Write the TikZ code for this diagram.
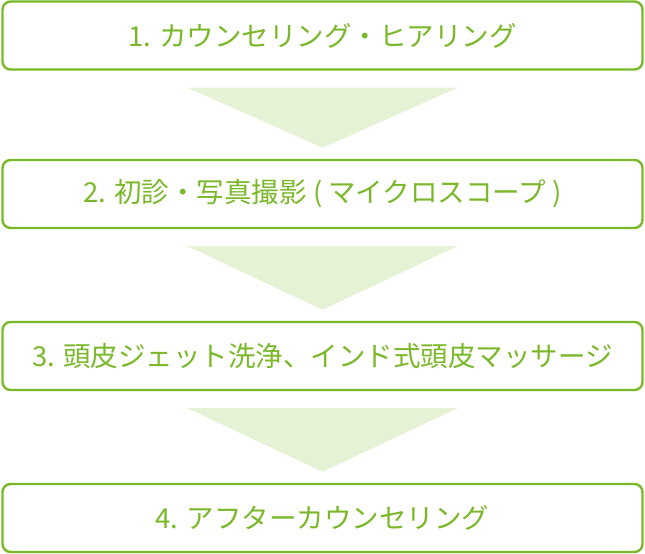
\documentclass[tikz,border=0pt]{standalone}
\usepackage{fontspec}
\newfontfamily\jp{Noto Sans CJK JP}
\definecolor{grn}{HTML}{7AB829}
\definecolor{tri}{HTML}{E6F2D6}
\begin{document}
\begin{tikzpicture}[x=1pt,y=-1pt,
  stepbox/.style={draw=grn,line width=2.4pt,rounded corners=8pt,fill=white,minimum width=640pt,minimum height=68pt,inner sep=0pt,text=grn,font=\jp\fontsize{27.5pt}{32pt}\selectfont},
  arr/.style={fill=tri,draw=none}]
\useasboundingbox (0,0) rectangle (645,554);
\node[stepbox] (s1) at (322.5,35.5) {1. カウンセリング・ヒアリング};
\node[stepbox] (s2) at (322.5,194) {2. 初診・写真撮影 ( マイクロスコープ )};
\node[stepbox] (s3) at (322.5,356) {3. 頭皮ジェット洗浄、インド式頭皮マッサージ};
\node[stepbox] (s4) at (322.5,518) {4. アフターカウンセリング};
\foreach \a/\b in {s1/s2,s2/s3,s3/s4}{
  \path (\a.south) ++(0,17) coordinate (t1) (\b.north) ++(0,-11) coordinate (t2);
  \fill[arr] (t1) ++(-135,0) -- ++(270,0) -- (t2) -- cycle;
}
\end{tikzpicture}
\end{document}
